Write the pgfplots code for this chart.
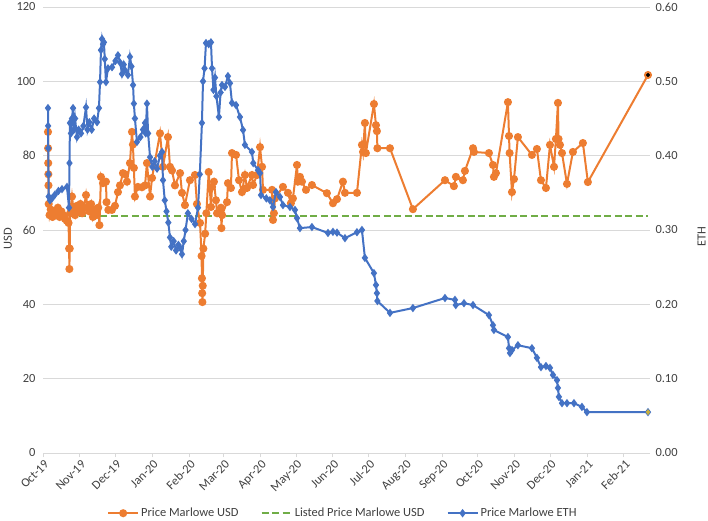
\documentclass[border=0pt]{standalone}
\usepackage{pgfplots}
\pgfplotsset{compat=1.18}
\usepackage{fontspec}
\setmainfont{Carlito}
\definecolor{xlorange}{HTML}{ED7D31}
\definecolor{xlblue}{HTML}{4472C4}
\definecolor{xlgreen}{HTML}{70AD47}
\definecolor{xlgold}{HTML}{C9B03C}
\definecolor{gridgray}{HTML}{D9D9D9}
\definecolor{txtgray}{HTML}{404040}

\pgfplotsset{
  base/.style={
    scale only axis, width=607bp, height=446bp,
    xmin=0, xmax=511,
    tick label style={font=\fontsize{12.5}{14}\selectfont, text=txtgray},
    /pgf/number format/assume math mode=true,
  },
  usdline/.style={xlorange, line width=2bp, mark=*, mark size=3bp, mark options={solid, fill=xlorange}},
  ethline/.style={xlblue, line width=2bp, mark=diamond*, mark size=2.6bp, mark options={solid, fill=xlblue}},
  listline/.style={xlgreen, line width=2.2bp, dash pattern=on 7bp off 3.5bp},
}

\begin{document}
\begin{tikzpicture}
\begin{axis}[base,
  ymin=0, ymax=120, ytick={0,20,40,60,80,100,120},
  xtick={0,31,61,92,123,152,183,213,244,274,305,336,366,397,427,458,489},
  xticklabels={Oct-19,Nov-19,Dec-19,Jan-20,Feb-20,Mar-20,Apr-20,May-20,Jun-20,Jul-20,Aug-20,Sep-20,Oct-20,Nov-20,Dec-20,Jan-21,Feb-21},
  xticklabel style={rotate=45, anchor=north east, inner sep=1bp, yshift=-1bp},
  axis x line*=bottom, axis y line*=left,
  y axis line style={draw=none}, x axis line style={draw=gridgray, line width=0.75bp, -},
  ytick style={draw=none}, xtick style={draw=gridgray, line width=0.75bp},
  tick align=outside, major tick length=4bp,
  ymajorgrids, grid style={gridgray, line width=0.75bp},
  ylabel={USD},
  every axis y label/.style={at={(axis description cs:-0.058,0.48)}, anchor=center, rotate=90,
    font=\fontsize{12.5}{14}\selectfont, text=txtgray},
]
\addplot[listline] coordinates {(4,63.8) (509,63.8)};
\addplot[usdline] coordinates {
(4.2,86.4) (4.3,82) (4.4,78) (4.5,75) (4.6,72) (4.8,67) (5.5,64) (6.5,65.5) (8,63.5)
(9.5,65) (11,64) (12.5,66) (14,63.5) (15.5,65) (17,64) (18.5,63) (20,62.5) (21.5,61.9)
(22,55) (22.2,49.5) (22.5,55) (22.8,64.5) (24.4,69) (25.5,66) (27,64) (28.5,66.5)
(30,65) (31.5,67) (33,64.5) (34.5,66) (36.2,69.4) (37.5,66) (39,65) (40.5,67) (42,63.5)
(43.5,65.5) (45,64) (46.5,66) (47.5,61.3) (48.8,74.3) (50.5,72.6) (53,73) (53.5,67.5)
(55,65.4) (58,65.4) (60.6,66.5) (63.1,70.2) (64.8,72) (67.3,75.3) (69,75) (70.7,73)
(73.2,78) (74.9,86.4) (75.7,83) (76.5,76.7) (77.4,69) (79.9,71.6) (83.3,71.5) (85.9,72)
(87.5,78) (90.1,69) (91.8,74) (98.5,86) (100.2,80) (101,77) (105.2,85) (106.9,77)
(108.6,76) (111.1,72) (115.4,75.3) (117,70) (119.5,66.7) (123.7,73.4) (127.9,74.8)
(129.6,67) (132.2,61.9) (133.5,53) (133.8,47) (134,43) (134.2,40.6) (134.5,45) (135,55)
(136.5,59) (137.5,64.5) (139.5,75.6) (141.4,66.2) (142.3,71.6) (143.9,73) (145.6,68)
(146.5,64.5) (149.8,66) (150.2,60.5) (150.8,64) (154.9,67.5) (155.7,72.6) (158.2,71.3)
(159.1,80.7) (162.5,80.2) (165,73.4) (167.5,70.2) (170,74.8) (171.7,71.3) (175.9,74.8)
(176.8,72.1) (180.2,74.8) (182.7,82.3) (184.4,77) (185.2,70.8) (192.8,70.8) (193.6,62.7)
(194.4,64.5) (195.3,68.5) (202,71.6) (206.2,70) (208.7,67.2) (210.4,68.5) (213.8,77.5)
(214.6,73) (216.3,74.3) (218,73) (221.4,70.8) (226.4,72.1) (239,69.9) (244.1,67.2)
(247.5,68.3) (252.5,73) (254.2,70) (264.3,70) (268.5,82.9) (269.4,81) (271,88.8)
(271.8,80.7) (278.6,93.9) (280.3,88.2) (281.1,86.6) (281.5,82) (292.1,82) (311.4,65.6)
(338.4,73.4) (345.9,71.8) (347.6,74.3) (353.5,73.4) (355.2,75.9) (362,82) (362.8,81)
(375.4,80.7) (378.8,77.5) (379.6,74.3) (381.3,75.3) (391.4,94.4) (392.3,85.3) (392.8,80.7)
(394.8,70.2) (396.5,73.7) (399.8,85) (411.6,80.2) (415.8,81.8) (419.2,73.4) (423.4,71.3)
(426.8,82.9) (430.2,77) (431.8,84.5) (433.5,94.2) (434,84.5) (435.2,82.9) (436.9,80.7)
(441.1,72.4) (446.1,81) (454.5,83.4) (458.7,72.9) (509.3,101.7)
};
\addplot[only marks, mark=*, mark size=1.8bp, black] coordinates {(509.3,101.7)};
\end{axis}
\begin{axis}[base,
  ymin=0, ymax=0.6, ytick={0,0.1,0.2,0.3,0.4,0.5,0.6},
  axis x line=none, axis y line*=right,
  y axis line style={draw=none}, ytick style={draw=none},
  /pgf/number format/fixed, /pgf/number format/fixed zerofill, /pgf/number format/precision=2,
  yticklabel style={xshift=2bp},
  ylabel={ETH},
  every axis y label/.style={at={(axis description cs:1.085,0.485)}, anchor=center, rotate=90,
    font=\fontsize{12.5}{14}\selectfont, text=txtgray},
  legend columns=3,
  legend style={at={(0.494,-0.135)}, anchor=center, draw=none, fill=none,
    font=\fontsize{12.5}{14}\selectfont, text=txtgray,
    /tikz/every even column/.append style={column sep=20bp}},
  legend image code/.code={\draw[mark repeat=2, mark phase=2, #1] plot coordinates {(0bp,0bp) (15bp,0bp) (30bp,0bp)};},
]
\addlegendimage{usdline}
\addlegendentry{Price Marlowe USD}
\addlegendimage{listline}
\addlegendentry{Listed Price Marlowe USD}
\addplot[ethline] coordinates {
(4.2,0.464) (4.3,0.44) (4.4,0.41) (4.6,0.375) (4.8,0.345) (5.9,0.34) (7.6,0.3425)
(10,0.3475) (13,0.3525) (16,0.355) (20.2,0.358) (21.9,0.33) (22.3,0.39) (22.7,0.444)
(23.5,0.43) (24.4,0.45) (25.3,0.464) (26,0.435) (27,0.45) (28.6,0.425) (30,0.435)
(32,0.43) (34,0.44) (36.2,0.465) (37.5,0.435) (39,0.445) (41,0.435) (43,0.45)
(45.5,0.445) (47.1,0.464) (48,0.499) (48.8,0.542) (49.7,0.557) (50.5,0.55) (51.3,0.5525)
(52,0.53) (53,0.499) (54.7,0.5175) (58.1,0.519) (61,0.5275) (63.1,0.535) (65,0.525)
(66.5,0.51) (68,0.5225) (69,0.515) (71.5,0.5085) (73.2,0.533) (74.5,0.52) (75.8,0.495)
(76.5,0.47) (77.4,0.45) (79.1,0.4185) (82,0.425) (84.2,0.435) (85.9,0.444) (86.5,0.43)
(87.5,0.47) (88.5,0.43) (90.1,0.398) (92,0.385) (94,0.3925) (96,0.3825) (98.5,0.4)
(100.2,0.405) (101,0.367) (102.5,0.34) (104,0.325) (105.5,0.31) (106.9,0.29) (108,0.2775)
(110,0.285) (112,0.2725) (114,0.28) (116,0.275) (117,0.2675) (118.5,0.285) (120,0.30)
(122,0.3225) (125,0.315) (128,0.308) (130.5,0.33) (132,0.375) (133.8,0.444) (134.7,0.50)
(136,0.5175) (137.2,0.5515) (139.5,0.55) (141.4,0.5525) (142.3,0.5175) (143.5,0.4885)
(144.8,0.505) (146,0.48) (148.1,0.452) (149.5,0.485) (150.7,0.495) (153.2,0.4925)
(155.7,0.507) (157.4,0.4975) (159.1,0.471) (162.5,0.468) (165.8,0.452) (168.4,0.4345)
(170,0.4145) (175.9,0.405) (177,0.39) (181,0.3805) (182.7,0.3765) (183.5,0.347)
(188,0.3425) (191,0.34) (193.6,0.331) (196.1,0.351) (199.5,0.3445) (202,0.3335)
(207.9,0.331) (212.1,0.327) (213.8,0.316) (216.3,0.3025) (226.4,0.304) (239.9,0.296)
(244.1,0.2975) (247.5,0.2965) (254.2,0.289) (264.3,0.297) (268.5,0.30) (271,0.2625)
(278.6,0.242) (280.3,0.226) (281.1,0.215) (281.5,0.2045) (292.1,0.1885) (311.4,0.195)
(338.4,0.2085) (346.8,0.206) (347.5,0.199) (354.4,0.2015) (362,0.199) (375.4,0.1855)
(378.8,0.172) (379.6,0.1655) (391.4,0.156) (392.3,0.141) (393.1,0.1345) (394.8,0.1385)
(399.8,0.145) (411.6,0.141) (415.8,0.128) (419.2,0.1155) (423.4,0.117) (426.8,0.1145)
(429.3,0.105) (432.7,0.098) (433.5,0.0875) (434.3,0.0755) (436.9,0.067) (441.1,0.067)
(447,0.067) (453.7,0.062) (457.9,0.055) (509.3,0.055)
};
\addlegendentry{Price Marlowe ETH}
\addplot[only marks, mark=diamond*, mark size=2.6bp, draw=xlgold, fill=xlgold, forget plot] coordinates {(509.3,0.055)};
\end{axis}
\pgfresetboundingbox
\path (-43bp,-68bp) rectangle (665bp,453bp);
\end{tikzpicture}
\end{document}
